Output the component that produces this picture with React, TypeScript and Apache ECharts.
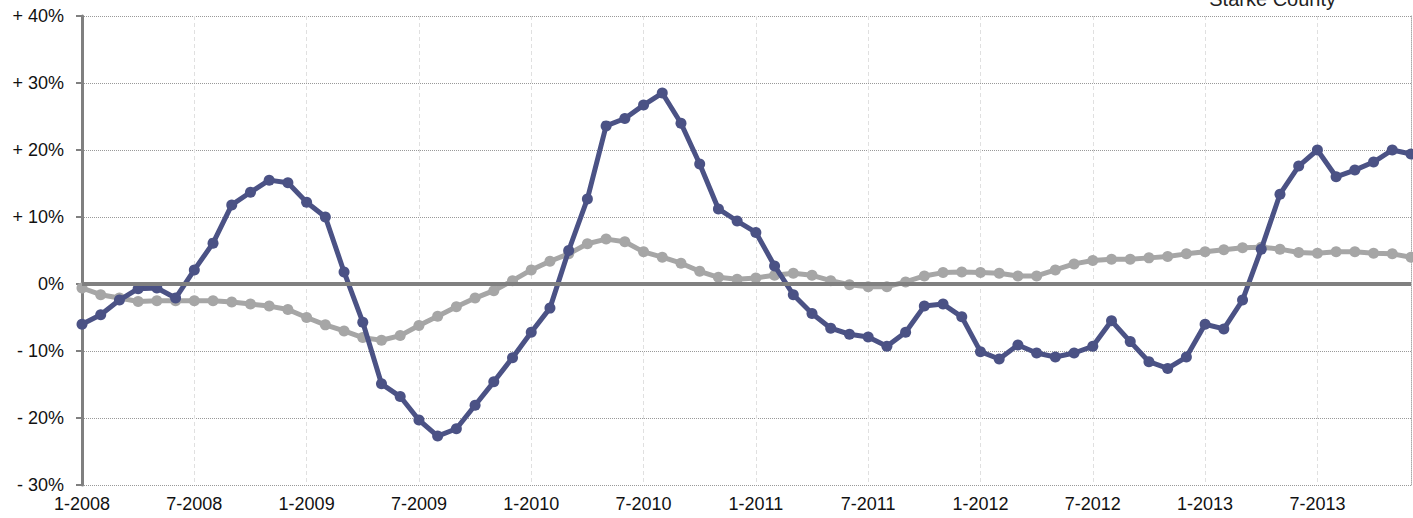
import React, { useEffect, useRef } from "react";
import * as echarts from "echarts";

const years = [2008, 2009, 2010, 2011, 2012, 2013];
const categories: string[] = [];
years.forEach((y) => {
  for (let m = 1; m <= 12; m++) categories.push(`${m}-${y}`);
});

const starkeCounty = [
  -6.0, -4.6, -2.4, -0.7, -0.6, -2.1, 2.1, 6.1, 11.8, 13.7, 15.5, 15.1,
  12.2, 10.0, 1.8, -5.7, -14.9, -16.8, -20.3, -22.7, -21.6, -18.1, -14.6, -11.0,
  -7.2, -3.6, 5.0, 12.7, 23.6, 24.7, 26.7, 28.5, 24.0, 17.9, 11.2, 9.4,
  7.7, 2.7, -1.6, -4.4, -6.6, -7.5, -7.9, -9.3, -7.2, -3.3, -3.0, -4.9,
  -10.1, -11.2, -9.1, -10.3, -10.9, -10.3, -9.3, -5.5, -8.6, -11.6, -12.6, -10.9,
  -6.0, -6.7, -2.4, 5.2, 13.4, 17.6, 20.0, 16.0, 17.0, 18.2, 20.0, 19.4,
];

const comparison = [
  -0.6, -1.6, -2.1, -2.6, -2.5, -2.5, -2.5, -2.5, -2.7, -3.0, -3.3, -3.8,
  -5.0, -6.1, -7.0, -8.0, -8.4, -7.7, -6.2, -4.8, -3.4, -2.1, -1.0, 0.5,
  2.1, 3.4, 4.5, 6.0, 6.7, 6.3, 4.8, 4.0, 3.1, 1.9, 1.0, 0.7,
  0.9, 1.3, 1.6, 1.3, 0.5, -0.1, -0.4, -0.4, 0.3, 1.2, 1.7, 1.8,
  1.7, 1.6, 1.2, 1.2, 2.1, 3.0, 3.5, 3.7, 3.7, 3.9, 4.1, 4.5,
  4.8, 5.1, 5.4, 5.5, 5.2, 4.7, 4.6, 4.8, 4.8, 4.6, 4.5, 4.0,
];

const yMin = -30;
const yMax = 40;
const yStep = 10;
const legendLabel = "Starke County";

const FONT = "'Liberation Sans', Arial, Helvetica, sans-serif";

function fmtY(v: number): string {
  if (v > 0) return `+ ${v}%`;
  if (v < 0) return `- ${Math.abs(v)}%`;
  return "0%";
}

export default function App() {
  const ref = useRef<HTMLDivElement>(null);
  useEffect(() => {
    if (!ref.current) return;
    const chart = echarts.init(ref.current, undefined, { renderer: "svg" });
    chart.setOption({
      animation: false,
      backgroundColor: "#ffffff",
      grid: { left: 82, right: 2, top: 16, bottom: 33, containLabel: false },
      graphic: [
        {
          type: "text",
          right: 77,
          top: -11,
          style: {
            text: legendLabel,
            font: `20px ${FONT}`,
            fill: "#222",
          },
        },
      ],
      xAxis: {
        type: "category",
        data: categories,
        boundaryGap: false,
        axisLine: { show: false },
        axisTick: { show: false },
        axisLabel: {
          interval: 5,
          fontSize: 18,
          fontFamily: FONT,
          color: "#111",
          margin: 10,
        },
        splitLine: {
          show: true,
          interval: 5,
          lineStyle: { color: "#e0e0e0", type: [4, 3], width: 1 },
        },
      },
      yAxis: [
        {
          type: "value",
          min: yMin,
          max: yMax,
          interval: yStep,
          axisLine: { show: true, lineStyle: { color: "#808080", width: 3 } },
          axisTick: { show: true, length: 6, lineStyle: { color: "#808080", width: 2 } },
          axisLabel: {
            formatter: fmtY,
            fontSize: 18,
            fontFamily: FONT,
            color: "#111",
            margin: 18,
          },
          splitLine: {
            show: true,
            lineStyle: { color: "#999999", type: "dotted", width: 1 },
          },
        },
        {
          type: "value",
          position: "right",
          min: yMin,
          max: yMax,
          interval: yStep,
          axisLine: { show: true, lineStyle: { color: "#aaaaaa", type: "dotted", width: 1 } },
          axisTick: { show: false },
          axisLabel: { show: false },
          splitLine: { show: false },
        },
      ],
      series: [
        {
          name: "Comparison",
          type: "line",
          data: comparison,
          z: 2,
          symbol: "circle",
          symbolSize: 11,
          showSymbol: true,
          lineStyle: { color: "#a6a6a6", width: 5 },
          itemStyle: { color: "#a6a6a6" },
          markLine: {
            silent: true,
            symbol: "none",
            label: { show: false },
            lineStyle: { color: "#808080", width: 4, type: "solid" },
            data: [{ yAxis: 0 }],
          },
        },
        {
          name: legendLabel,
          type: "line",
          data: starkeCounty,
          z: 3,
          symbol: "circle",
          symbolSize: 11,
          showSymbol: true,
          lineStyle: { color: "#4b5285", width: 5 },
          itemStyle: { color: "#4b5285" },
        },
      ],
    });
    return () => chart.dispose();
  }, []);
  return (
    <div
      ref={ref}
      style={{ position: "fixed", left: 0, top: 0, width: 1413, height: 518 }}
    />
  );
}
